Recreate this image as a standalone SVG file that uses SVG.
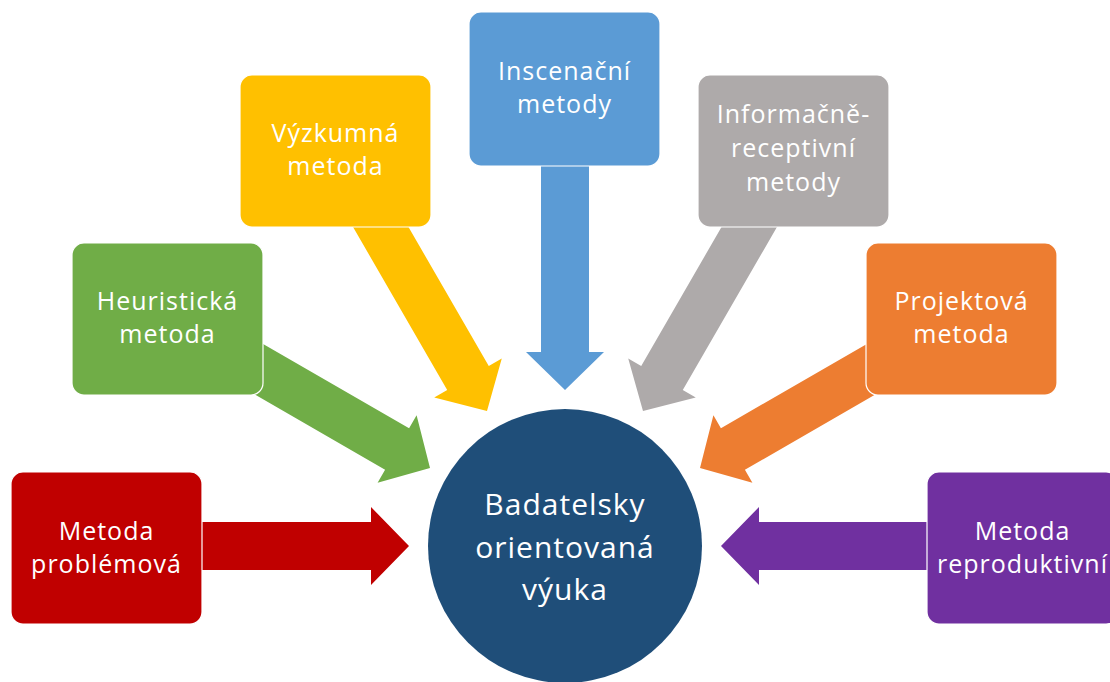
<svg xmlns="http://www.w3.org/2000/svg" width="1110" height="682" viewBox="0 0 1110 682">
<defs>
<style>
.box{stroke:#ffffff;stroke-width:1.2}
.t{font-family:"Open Sans","Liberation Sans",sans-serif;font-size:25px;fill:#ffffff;text-anchor:middle;letter-spacing:1px}
.tc{font-family:"Open Sans","Liberation Sans",sans-serif;font-size:30px;fill:#ffffff;text-anchor:middle;letter-spacing:1px}
</style>
<polygon id="arr" points="-235,-24 -38,-24 -38,-39 0,0 -38,39 -38,24 -235,24"/>
</defs>
<rect width="1110" height="682" fill="#ffffff"/>
<g id="connectors">
<use href="#arr" fill="#C00000" transform="translate(409,546) rotate(0)"/>
<use href="#arr" fill="#70AD47" transform="translate(430,468) rotate(30)"/>
<use href="#arr" fill="#FFC000" transform="translate(487,411) rotate(60)"/>
<use href="#arr" fill="#5B9BD5" transform="translate(565,390) rotate(90)"/>
<use href="#arr" fill="#AEAAAA" transform="translate(643,411) rotate(120)"/>
<use href="#arr" fill="#ED7D31" transform="translate(700,468) rotate(150)"/>
<use href="#arr" fill="#7030A0" transform="translate(721,546) rotate(180)"/>
</g>
<g id="center">
<circle cx="565" cy="546" r="137" fill="#1F4E79"/>
<text class="tc" x="565" y="515">Badatelsky</text>
<text class="tc" x="565" y="558">orientovaná</text>
<text class="tc" x="565" y="600">výuka</text>
</g>
<g id="problemova">
<rect class="box" x="11" y="472" width="191" height="152" rx="12" fill="#C00000"/>
<text class="t" x="106.5" y="540">Metoda</text>
<text class="t" x="106.5" y="573">problémová</text>
</g>
<g id="heuristicka">
<rect class="box" x="72" y="243" width="191" height="152" rx="12" fill="#70AD47"/>
<text class="t" x="167.5" y="310">Heuristická</text>
<text class="t" x="167.5" y="343">metoda</text>
</g>
<g id="vyzkumna">
<rect class="box" x="240" y="75" width="191" height="152" rx="12" fill="#FFC000"/>
<text class="t" x="335.5" y="142">Výzkumná</text>
<text class="t" x="335.5" y="175">metoda</text>
</g>
<g id="inscenacni">
<rect class="box" x="469" y="12" width="191" height="154" rx="12" fill="#5B9BD5"/>
<text class="t" x="564.5" y="80">Inscenační</text>
<text class="t" x="564.5" y="113">metody</text>
</g>
<g id="informacne">
<rect class="box" x="698" y="75" width="191" height="152" rx="12" fill="#AEAAAA"/>
<text class="t" x="793.5" y="123">Informačně-</text>
<text class="t" x="793.5" y="157">receptivní</text>
<text class="t" x="793.5" y="191">metody</text>
</g>
<g id="projektova">
<rect class="box" x="866" y="243" width="191" height="152" rx="12" fill="#ED7D31"/>
<text class="t" x="961.5" y="310">Projektová</text>
<text class="t" x="961.5" y="343">metoda</text>
</g>
<g id="reproduktivni">
<rect class="box" x="927" y="472" width="191" height="152" rx="12" fill="#7030A0"/>
<text class="t" x="1022.5" y="540">Metoda</text>
<text class="t" x="1022.5" y="573">reproduktivní</text>
</g>
</svg>
